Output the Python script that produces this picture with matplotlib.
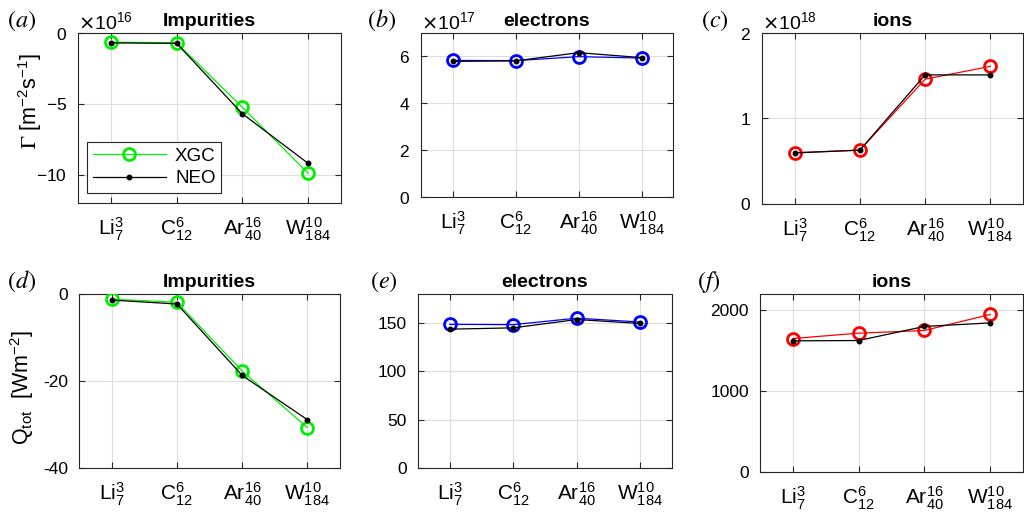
import matplotlib
matplotlib.use("Agg")
import matplotlib.pyplot as plt
import numpy as np

plt.rcParams['font.family'] = ['Liberation Sans', 'DejaVu Sans']
plt.rcParams['axes.unicode_minus'] = False

# Species (charge state and mass number)
species = [r'$\mathregular{Li_{7}^{3}}$', r'$\mathregular{C_{12}^{6}}$',
           r'$\mathregular{Ar_{40}^{16}}$', r'$\mathregular{W_{184}^{10}}$']

# Particle flux Gamma [m^-2 s^-1]
gamma_imp_xgc = [-0.65e16, -0.69e16, -5.25e16, -9.9e16]
gamma_imp_neo = [-0.70e16, -0.73e16, -5.70e16, -9.2e16]
gamma_ele_xgc = [5.83e17, 5.82e17, 5.99e17, 5.93e17]
gamma_ele_neo = [5.79e17, 5.81e17, 6.16e17, 5.95e17]
gamma_ion_xgc = [0.60e18, 0.63e18, 1.46e18, 1.61e18]
gamma_ion_neo = [0.597e18, 0.63e18, 1.51e18, 1.51e18]

# Total heat flux Q_tot [W m^-2]
q_imp_xgc = [-1.2, -1.9, -17.7, -30.7]
q_imp_neo = [-1.4, -2.3, -18.7, -28.9]
q_ele_xgc = [148.6, 148.3, 155.0, 151.0]
q_ele_neo = [143.6, 145.0, 153.6, 149.5]
q_ion_xgc = [1650, 1716, 1749, 1947]
q_ion_neo = [1621, 1625, 1799, 1843]

W, H = 1024, 519
fig = plt.figure(figsize=(W / 100, H / 100), dpi=100)


def px_axes(x0, y0, x1, y1):
    return fig.add_axes([x0 / W, 1 - y1 / H, (x1 - x0) / W, (y1 - y0) / H])


panels = [
    # box (px), xgc, neo, colour, title, ylim, yticks, sci order, tag
    ((78, 33, 341, 203), gamma_imp_xgc, gamma_imp_neo, '#00ee00', 'Impurities',
     (-12e16, 0), [-10e16, -5e16, 0], 16, 'a', (7, 21)),
    ((421, 33, 673, 197), gamma_ele_xgc, gamma_ele_neo, '#0000ff', 'electrons',
     (0, 7e17), [0, 2e17, 4e17, 6e17], 17, 'b', (367, 20)),
    ((762, 33, 1023, 204), gamma_ion_xgc, gamma_ion_neo, '#ff0000', 'ions',
     (0, 2e18), [0, 1e18, 2e18], 18, 'c', (701, 21)),
    ((79, 294, 340, 468), q_imp_xgc, q_imp_neo, '#00ee00', 'Impurities',
     (-40, 0), [-40, -20, 0], None, 'd', (7, 281)),
    ((418, 294, 672, 468), q_ele_xgc, q_ele_neo, '#0000ff', 'electrons',
     (0, 180), [0, 50, 100, 150], None, 'e', (370, 282)),
    ((760, 294, 1023, 472), q_ion_xgc, q_ion_neo, '#ff0000', 'ions',
     (0, 2200), [0, 1000, 2000], None, 'f', (697, 282)),
]

x = np.arange(1, len(species) + 1)
axes = []
for box, xgc, neo, col, title, ylim, yticks, order, tag, tagpos in panels:
    ax = px_axes(*box)
    axes.append(ax)
    ax.plot(x, xgc, '-', color=col, lw=0.9, marker='o', ms=8.6,
            mfc='none', mec=col, mew=2.0, label='XGC', zorder=3)
    ax.plot(x, neo, '-', color='black', lw=0.9, marker='.', ms=6.5,
            label='NEO', zorder=4)
    ax.set_xlim(0.5, 4.5)
    ax.set_ylim(*ylim)
    ax.set_yticks(yticks)
    ax.set_xticks(x)
    ax.set_xticklabels(species, fontsize=15)
    ax.tick_params(axis='y', labelsize=12.5, pad=8)
    ax.tick_params(direction='in', length=4, width=0.8, top=True, right=True,
                   color='#262626')
    ax.tick_params(axis='x', pad=9)
    ax.grid(True, color='#dedede', lw=0.8)
    ax.set_axisbelow(True)
    for s in ax.spines.values():
        s.set_color('#262626')
        s.set_linewidth(0.8)
    if order is not None:
        ax.ticklabel_format(axis='y', style='sci', scilimits=(order, order),
                            useMathText=True)
        ax.yaxis.get_offset_text().set_fontsize(14)
    ax.set_title(title, fontsize=14, fontweight='bold', pad=5)
    fig.text(tagpos[0] / W, 1 - tagpos[1] / H, '$(%s)$' % tag, fontsize=17.5,
             math_fontfamily='stix', ha='left', va='center')

axes[0].set_ylabel(r'$\Gamma$ [$\mathregular{m^{-2}s^{-1}}$]', fontsize=15.5,
                   math_fontfamily='stix')
axes[0].yaxis.set_label_coords(-0.128, 0.60)
axes[3].set_ylabel(r'$\mathregular{Q_{tot}}$  [$\mathregular{Wm^{-2}}$]',
                   fontsize=15.5)
axes[3].yaxis.set_label_coords(-0.165, 0.463)

leg = axes[0].legend(loc='lower left', bbox_to_anchor=(0.034, 0.059),
                     borderaxespad=0, fontsize=13.5, handlelength=3.9,
                     handletextpad=0.5, borderpad=0.3, labelspacing=0.3,
                     fancybox=False, framealpha=1, edgecolor='#262626')
leg.get_frame().set_linewidth(0.8)

fig.savefig('out.png', dpi=100)
